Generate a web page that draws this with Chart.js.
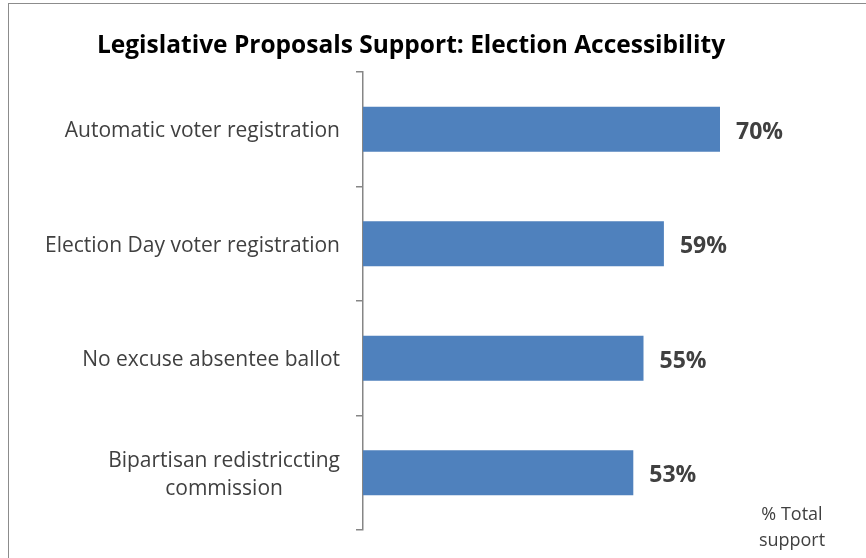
<!DOCTYPE html>
<html>
<head>
<meta charset="utf-8">
<script src="https://cdn.jsdelivr.net/npm/chart.js@4.4.1/dist/chart.umd.min.js"></script>
<style>
    html, body { margin: 0; padding: 0; background: #ffffff; }
    #wrap { position: relative; width: 866px; height: 558px; }
</style>
</head>
<body>
<div id="wrap"><canvas id="supportChart" width="866" height="558"></canvas></div>
<script>
const categories = [
    ['Automatic voter registration'],
    ['Election Day voter registration'],
    ['No excuse absentee ballot'],
    ['Bipartisan redistriccting', 'commission']
];
const supportValues = [70, 59, 55, 53];
const axisNote = ['% Total', 'support'];

const FONT = '"Open Sans", "Noto Sans", sans-serif';
const TEXT_COLOR = '#404040';
const AXIS_LEFT = 363;

// outer frame line
const framePlugin = {
    id: 'frame',
    beforeDraw(chart) {
        const ctx = chart.ctx;
        ctx.save();
        ctx.strokeStyle = '#8c8c8c';
        ctx.lineWidth = 1;
        ctx.strokeRect(8.5, 3.5, 1000, 1000);
        ctx.restore();
    }
};

// category names, lines centred within each label block
const categoryLabels = {
    id: 'categoryLabels',
    afterDraw(chart) {
        const ctx = chart.ctx;
        const yScale = chart.scales.y;
        const right = AXIS_LEFT - 23;
        const lineH = 28;
        ctx.save();
        ctx.font = `21px ${FONT}`;
        ctx.fillStyle = TEXT_COLOR;
        ctx.textAlign = 'center';
        ctx.textBaseline = 'middle';
        categories.forEach((lines, i) => {
            const cy = yScale.getPixelForValue(i) + 2;
            const w = Math.max(...lines.map(l => ctx.measureText(l).width));
            const cx = right - w / 2;
            const y0 = cy - (lines.length - 1) * lineH / 2;
            lines.forEach((l, j) => ctx.fillText(l, cx, y0 + j * lineH));
        });
        ctx.restore();
    }
};

// percentage next to each bar
const valueLabels = {
    id: 'valueLabels',
    afterDatasetsDraw(chart) {
        const ctx = chart.ctx;
        const meta = chart.getDatasetMeta(0);
        ctx.save();
        ctx.font = `bold 23px ${FONT}`;
        ctx.fillStyle = TEXT_COLOR;
        ctx.textAlign = 'left';
        ctx.textBaseline = 'middle';
        meta.data.forEach((bar, i) => {
            ctx.fillText(`${supportValues[i]}%`, bar.x + 16, bar.y + 3);
        });
        ctx.restore();
    }
};

// axis note in the bottom right corner
const notePlugin = {
    id: 'axisNote',
    afterDraw(chart) {
        const ctx = chart.ctx;
        ctx.save();
        ctx.font = `18px ${FONT}`;
        ctx.fillStyle = TEXT_COLOR;
        ctx.textAlign = 'center';
        ctx.textBaseline = 'middle';
        axisNote.forEach((l, i) => ctx.fillText(l, 792, 515 + i * 26));
        ctx.restore();
    }
};

new Chart(document.getElementById('supportChart'), {
    type: 'bar',
    data: {
        labels: categories,
        datasets: [{
            data: supportValues,
            backgroundColor: '#4f81bd',
            borderWidth: 0,
            barPercentage: 0.395,
            categoryPercentage: 1
        }]
    },
    options: {
        indexAxis: 'y',
        responsive: false,
        animation: false,
        layout: { padding: { top: 0, right: 44, bottom: 28, left: 0 } },
        plugins: {
            legend: { display: false },
            tooltip: { enabled: false },
            title: {
                display: true,
                text: 'Legislative Proposals Support: Election Accessibility',
                color: '#000000',
                font: { family: FONT, size: 24.5, weight: 'bold', lineHeight: 1.2 },
                padding: { top: 31.3, bottom: 11.3 }
            }
        },
        scales: {
            x: {
                display: false,
                min: 0,
                max: 90
            },
            y: {
                offset: true,
                border: { display: true, color: '#868686', width: 1.5 },
                grid: {
                    offset: true,
                    drawOnChartArea: false,
                    drawTicks: true,
                    tickLength: 7,
                    color: '#868686',
                    lineWidth: 1.5
                },
                ticks: { display: false },
                afterFit(scale) {
                    scale.width = AXIS_LEFT;
                }
            }
        }
    },
    plugins: [framePlugin, categoryLabels, valueLabels, notePlugin]
});
</script>
</body>
</html>
